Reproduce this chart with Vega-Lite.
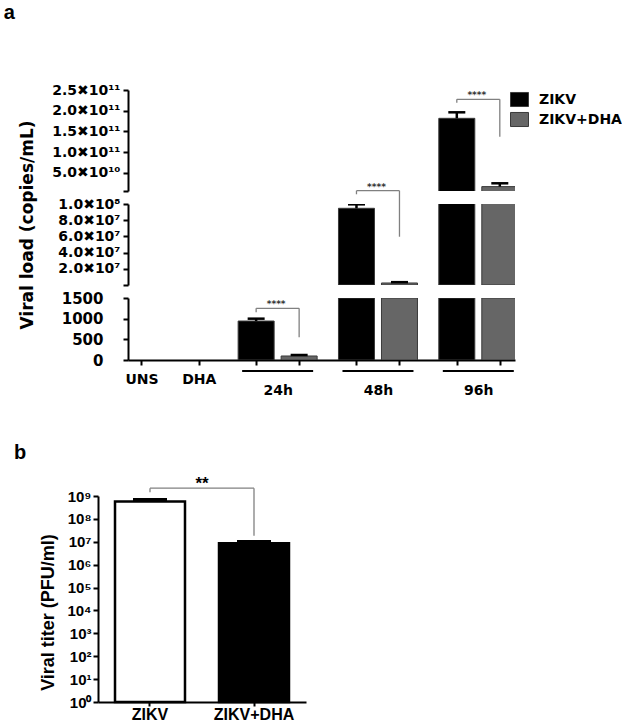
{
  "$schema": "https://vega.github.io/schema/vega-lite/v6.json",
  "padding": {"left": 3, "top": 3, "right": 0, "bottom": 0},
  "background": "white",
  "config": {
    "view": {"stroke": null},
    "axis": {
      "domainColor": "black", "domainWidth": 2, "tickColor": "black", "tickWidth": 2, "tickSize": 5,
      "grid": false, "labelColor": "black", "titleColor": "black", "labelOverlap": false,
      "labelFont": "DejaVu Sans", "labelFontWeight": "bold", "titleFont": "DejaVu Sans", "titleFontWeight": "bold"
    },
    "legend": {
      "orient": "right", "offset": -5, "padding": 0,
      "labelFont": "DejaVu Sans", "labelFontWeight": "bold", "labelFontSize": 14, "labelColor": "black",
      "symbolType": "M-1,-0.78H1V0.78H-1Z", "symbolSize": 324, "symbolStrokeColor": "#3a3a3a", "symbolStrokeWidth": 1,
      "labelOffset": 10, "rowPadding": 1
    },
    "title": {"font": "Liberation Sans", "fontWeight": "bold", "fontSize": 20, "color": "black"}
  },
  "datasets": {
    "bars": [
      {"bar": "24h ZIKV", "time": "24h", "treatment": "ZIKV", "value": 943, "upper": 1000},
      {"bar": "24h ZIKV+DHA", "time": "24h", "treatment": "ZIKV+DHA", "value": 97, "upper": 121},
      {"bar": "48h ZIKV", "time": "48h", "treatment": "ZIKV", "value": 94700000, "upper": 99600000},
      {"bar": "48h ZIKV+DHA", "time": "48h", "treatment": "ZIKV+DHA", "value": 2500000, "upper": 3500000},
      {"bar": "96h ZIKV", "time": "96h", "treatment": "ZIKV", "value": 181600000000, "upper": 196100000000},
      {"bar": "96h ZIKV+DHA", "time": "96h", "treatment": "ZIKV+DHA", "value": 16600000000, "upper": 24600000000}
    ],
    "brackets": [
      {"time": "24h", "left": "24h ZIKV", "right": "24h ZIKV+DHA", "top": 1251, "leftEnd": 1154, "rightEnd": 549, "sig": "****"},
      {"time": "48h", "left": "48h ZIKV", "right": "48h ZIKV+DHA", "top": 116400000, "leftEnd": 112000000, "rightEnd": 59600000, "sig": "****"},
      {"time": "96h", "left": "96h ZIKV", "right": "96h ZIKV+DHA", "top": 227500000000, "leftEnd": 219300000000, "rightEnd": 137200000000, "sig": "****"}
    ],
    "groups": [
      {"time": "24h", "first": "24h ZIKV", "last": "24h ZIKV+DHA"},
      {"time": "48h", "first": "48h ZIKV", "last": "48h ZIKV+DHA"},
      {"time": "96h", "first": "96h ZIKV", "last": "96h ZIKV+DHA"}
    ],
    "titer": [
      {"virus": "ZIKV", "value": 570000000, "upper": 700000000},
      {"virus": "ZIKV+DHA", "value": 8700000, "upper": 10300000}
    ],
    "titerBracket": [
      {"left": "ZIKV", "right": "ZIKV+DHA", "top": 2190000000, "leftEnd": 1470000000, "rightEnd": 18300000, "sig": "**"}
    ]
  },
  "spacing": 45,
  "resolve": {"scale": {"x": "independent", "y": "independent", "fill": "independent"}, "legend": {"fill": "independent"}},
  "vconcat": [
    {
      "spacing": 13,
      "bounds": "flush",
      "resolve": {"scale": {"y": "independent", "fill": "independent"}, "legend": {"fill": "independent"}},
      "vconcat": [
        {
          "width": 387, "height": 101,
          "title": {"text": "a", "anchor": "start", "frame": "bounds", "offset": 60, "dx": -48},
          "resolve": {"axis": {"x": "independent", "y": "independent"}},
          "layer": [
            {
              "data": {"name": "bars"},
              "transform": [{"filter": "datum.time == '96h'"}],
              "mark": {"type": "bar", "width": 36, "clip": true, "stroke": "#3a3a3a", "strokeWidth": 1},
              "encoding": {
                "x": {"field": "bar", "type": "nominal", "axis": null, "scale": {"type": "point", "domain": ["UNS","_1","_2","_3","DHA","_5","_6","_7","24h ZIKV","_9","_10","24h ZIKV+DHA","_12","_13","_14","48h ZIKV","_16","_17","48h ZIKV+DHA","_19","_20","_21","96h ZIKV","_23","_24","96h ZIKV+DHA"], "padding": 2.07, "align": 0.47}},
                "y": {"field": "value", "type": "quantitative", "scale": {"domain": [6000000000, 250000000000], "zero": false, "nice": false},
                  "axis": {"title": null, "orient": "left", "labelOverlap": false, "labelFlush": false, "labelBound": false, "values": [6000000000, 50000000000, 100000000000, 150000000000, 200000000000, 250000000000],
                    "labelExpr": "datum.value >= 1e11 ? format(datum.value / 1e11, '.1f') + '✖10¹¹' : datum.value >= 1e10 ? format(datum.value / 1e10, '.1f') + '✖10¹⁰' : ''",
                    "labelFontSize": 14, "labelPadding": 3}},
                "fill": {"field": "treatment", "type": "nominal", "title": null, "scale": {"domain": ["ZIKV", "ZIKV+DHA"], "range": ["#000000", "#666666"]}}
              }
            },
            {
              "data": {"name": "bars"},
              "transform": [{"filter": "datum.time == '96h'"}],
              "mark": {"type": "rule", "clip": true, "strokeWidth": 2.5, "color": "black"},
              "encoding": {
                "x": {"field": "bar", "type": "nominal", "axis": null, "scale": {"type": "point", "domain": ["UNS","_1","_2","_3","DHA","_5","_6","_7","24h ZIKV","_9","_10","24h ZIKV+DHA","_12","_13","_14","48h ZIKV","_16","_17","48h ZIKV+DHA","_19","_20","_21","96h ZIKV","_23","_24","96h ZIKV+DHA"], "padding": 2.07, "align": 0.47}},
                "y": {"field": "value", "type": "quantitative", "axis": null, "scale": {"domain": [6000000000, 250000000000], "zero": false, "nice": false}},
                "y2": {"field": "upper"}
              }
            },
            {
              "data": {"name": "bars"},
              "transform": [{"filter": "datum.time == '96h'"}],
              "mark": {"type": "tick", "orient": "horizontal", "clip": true, "size": 17, "thickness": 2.5, "color": "black", "opacity": 1},
              "encoding": {
                "x": {"field": "bar", "type": "nominal", "axis": null, "scale": {"type": "point", "domain": ["UNS","_1","_2","_3","DHA","_5","_6","_7","24h ZIKV","_9","_10","24h ZIKV+DHA","_12","_13","_14","48h ZIKV","_16","_17","48h ZIKV+DHA","_19","_20","_21","96h ZIKV","_23","_24","96h ZIKV+DHA"], "padding": 2.07, "align": 0.47}},
                "y": {"field": "upper", "type": "quantitative", "axis": null, "scale": {"domain": [6000000000, 250000000000], "zero": false, "nice": false}}
              }
            },
            {
              "data": {"name": "brackets"},
              "transform": [{"filter": "datum.time == '96h'"}],
              "mark": {"type": "rule", "color": "#808080", "strokeWidth": 1.3},
              "encoding": {
                "x": {"field": "left", "type": "nominal", "axis": null, "scale": {"type": "point", "domain": ["UNS","_1","_2","_3","DHA","_5","_6","_7","24h ZIKV","_9","_10","24h ZIKV+DHA","_12","_13","_14","48h ZIKV","_16","_17","48h ZIKV+DHA","_19","_20","_21","96h ZIKV","_23","_24","96h ZIKV+DHA"], "padding": 2.07, "align": 0.47}},
                "x2": {"field": "right"},
                "y": {"field": "top", "type": "quantitative", "axis": null, "scale": {"domain": [6000000000, 250000000000], "zero": false, "nice": false}}
              }
            },
            {
              "data": {"name": "brackets"},
              "transform": [{"filter": "datum.time == '96h'"}],
              "mark": {"type": "rule", "color": "#808080", "strokeWidth": 1.3},
              "encoding": {
                "x": {"field": "left", "type": "nominal", "axis": null, "scale": {"type": "point", "domain": ["UNS","_1","_2","_3","DHA","_5","_6","_7","24h ZIKV","_9","_10","24h ZIKV+DHA","_12","_13","_14","48h ZIKV","_16","_17","48h ZIKV+DHA","_19","_20","_21","96h ZIKV","_23","_24","96h ZIKV+DHA"], "padding": 2.07, "align": 0.47}},
                "y": {"field": "top", "type": "quantitative", "axis": null, "scale": {"domain": [6000000000, 250000000000], "zero": false, "nice": false}},
                "y2": {"field": "leftEnd"}
              }
            },
            {
              "data": {"name": "brackets"},
              "transform": [{"filter": "datum.time == '96h'"}],
              "mark": {"type": "rule", "color": "#808080", "strokeWidth": 1.3},
              "encoding": {
                "x": {"field": "right", "type": "nominal", "axis": null, "scale": {"type": "point", "domain": ["UNS","_1","_2","_3","DHA","_5","_6","_7","24h ZIKV","_9","_10","24h ZIKV+DHA","_12","_13","_14","48h ZIKV","_16","_17","48h ZIKV+DHA","_19","_20","_21","96h ZIKV","_23","_24","96h ZIKV+DHA"], "padding": 2.07, "align": 0.47}},
                "y": {"field": "top", "type": "quantitative", "axis": null, "scale": {"domain": [6000000000, 250000000000], "zero": false, "nice": false}},
                "y2": {"field": "rightEnd"}
              }
            },
            {
              "data": {"name": "brackets"},
              "transform": [{"filter": "datum.time == '96h'"}],
              "mark": {"type": "text", "font": "DejaVu Sans", "fontWeight": "bold", "fontSize": 9, "color": "#333333", "dx": 20, "dy": -1, "baseline": "alphabetic"},
              "encoding": {
                "x": {"field": "left", "type": "nominal", "axis": null, "scale": {"type": "point", "domain": ["UNS","_1","_2","_3","DHA","_5","_6","_7","24h ZIKV","_9","_10","24h ZIKV+DHA","_12","_13","_14","48h ZIKV","_16","_17","48h ZIKV+DHA","_19","_20","_21","96h ZIKV","_23","_24","96h ZIKV+DHA"], "padding": 2.07, "align": 0.47}},
                "y": {"field": "top", "type": "quantitative", "axis": null, "scale": {"domain": [6000000000, 250000000000], "zero": false, "nice": false}},
                "text": {"field": "sig"}
              }
            }
          ]
        },
        {
          "width": 387, "height": 81,
          "resolve": {"axis": {"x": "independent", "y": "independent"}},
          "layer": [
            {
              "data": {"name": "bars"},
              "transform": [{"filter": "datum.time != '24h'"}],
              "mark": {"type": "bar", "width": 36, "clip": true, "stroke": "#3a3a3a", "strokeWidth": 1},
              "encoding": {
                "x": {"field": "bar", "type": "nominal", "axis": null, "scale": {"type": "point", "domain": ["UNS","_1","_2","_3","DHA","_5","_6","_7","24h ZIKV","_9","_10","24h ZIKV+DHA","_12","_13","_14","48h ZIKV","_16","_17","48h ZIKV+DHA","_19","_20","_21","96h ZIKV","_23","_24","96h ZIKV+DHA"], "padding": 2.07, "align": 0.47}},
                "y": {"field": "value", "type": "quantitative", "scale": {"domain": [0, 100000000], "nice": false},
                  "axis": {"title": "Viral load (copies/mL)", "orient": "left", "titleFontSize": 17, "titleX": -92, "titleY": 20.5, "labelOverlap": false, "labelFlush": false, "labelBound": false,
                    "values": [0, 20000000, 40000000, 60000000, 80000000, 100000000],
                    "labelExpr": "datum.value == 0 ? '' : datum.value >= 1e8 ? format(datum.value / 1e8, '.1f') + '✖10⁸' : format(datum.value / 1e7, '.1f') + '✖10⁷'",
                    "labelFontSize": 14, "labelPadding": 3}},
                "fill": {"field": "treatment", "type": "nominal", "legend": null, "scale": {"domain": ["ZIKV", "ZIKV+DHA"], "range": ["#000000", "#666666"]}}
              }
            },
            {
              "data": {"name": "bars"},
              "transform": [{"filter": "datum.time == '48h'"}],
              "mark": {"type": "rule", "clip": true, "strokeWidth": 2.5, "color": "black"},
              "encoding": {
                "x": {"field": "bar", "type": "nominal", "axis": null, "scale": {"type": "point", "domain": ["UNS","_1","_2","_3","DHA","_5","_6","_7","24h ZIKV","_9","_10","24h ZIKV+DHA","_12","_13","_14","48h ZIKV","_16","_17","48h ZIKV+DHA","_19","_20","_21","96h ZIKV","_23","_24","96h ZIKV+DHA"], "padding": 2.07, "align": 0.47}},
                "y": {"field": "value", "type": "quantitative", "axis": null, "scale": {"domain": [0, 100000000], "nice": false}},
                "y2": {"field": "upper"}
              }
            },
            {
              "data": {"name": "bars"},
              "transform": [{"filter": "datum.time == '48h'"}],
              "mark": {"type": "tick", "orient": "horizontal", "clip": true, "size": 17, "thickness": 2.5, "color": "black", "opacity": 1},
              "encoding": {
                "x": {"field": "bar", "type": "nominal", "axis": null, "scale": {"type": "point", "domain": ["UNS","_1","_2","_3","DHA","_5","_6","_7","24h ZIKV","_9","_10","24h ZIKV+DHA","_12","_13","_14","48h ZIKV","_16","_17","48h ZIKV+DHA","_19","_20","_21","96h ZIKV","_23","_24","96h ZIKV+DHA"], "padding": 2.07, "align": 0.47}},
                "y": {"field": "upper", "type": "quantitative", "axis": null, "scale": {"domain": [0, 100000000], "nice": false}}
              }
            },
            {
              "data": {"name": "brackets"},
              "transform": [{"filter": "datum.time == '48h'"}],
              "mark": {"type": "rule", "color": "#808080", "strokeWidth": 1.3},
              "encoding": {
                "x": {"field": "left", "type": "nominal", "axis": null, "scale": {"type": "point", "domain": ["UNS","_1","_2","_3","DHA","_5","_6","_7","24h ZIKV","_9","_10","24h ZIKV+DHA","_12","_13","_14","48h ZIKV","_16","_17","48h ZIKV+DHA","_19","_20","_21","96h ZIKV","_23","_24","96h ZIKV+DHA"], "padding": 2.07, "align": 0.47}},
                "x2": {"field": "right"},
                "y": {"field": "top", "type": "quantitative", "axis": null, "scale": {"domain": [0, 100000000], "nice": false}}
              }
            },
            {
              "data": {"name": "brackets"},
              "transform": [{"filter": "datum.time == '48h'"}],
              "mark": {"type": "rule", "color": "#808080", "strokeWidth": 1.3},
              "encoding": {
                "x": {"field": "left", "type": "nominal", "axis": null, "scale": {"type": "point", "domain": ["UNS","_1","_2","_3","DHA","_5","_6","_7","24h ZIKV","_9","_10","24h ZIKV+DHA","_12","_13","_14","48h ZIKV","_16","_17","48h ZIKV+DHA","_19","_20","_21","96h ZIKV","_23","_24","96h ZIKV+DHA"], "padding": 2.07, "align": 0.47}},
                "y": {"field": "top", "type": "quantitative", "axis": null, "scale": {"domain": [0, 100000000], "nice": false}},
                "y2": {"field": "leftEnd"}
              }
            },
            {
              "data": {"name": "brackets"},
              "transform": [{"filter": "datum.time == '48h'"}],
              "mark": {"type": "rule", "color": "#808080", "strokeWidth": 1.3},
              "encoding": {
                "x": {"field": "right", "type": "nominal", "axis": null, "scale": {"type": "point", "domain": ["UNS","_1","_2","_3","DHA","_5","_6","_7","24h ZIKV","_9","_10","24h ZIKV+DHA","_12","_13","_14","48h ZIKV","_16","_17","48h ZIKV+DHA","_19","_20","_21","96h ZIKV","_23","_24","96h ZIKV+DHA"], "padding": 2.07, "align": 0.47}},
                "y": {"field": "top", "type": "quantitative", "axis": null, "scale": {"domain": [0, 100000000], "nice": false}},
                "y2": {"field": "rightEnd"}
              }
            },
            {
              "data": {"name": "brackets"},
              "transform": [{"filter": "datum.time == '48h'"}],
              "mark": {"type": "text", "font": "DejaVu Sans", "fontWeight": "bold", "fontSize": 9, "color": "#333333", "dx": 20, "dy": -1, "baseline": "alphabetic"},
              "encoding": {
                "x": {"field": "left", "type": "nominal", "axis": null, "scale": {"type": "point", "domain": ["UNS","_1","_2","_3","DHA","_5","_6","_7","24h ZIKV","_9","_10","24h ZIKV+DHA","_12","_13","_14","48h ZIKV","_16","_17","48h ZIKV+DHA","_19","_20","_21","96h ZIKV","_23","_24","96h ZIKV+DHA"], "padding": 2.07, "align": 0.47}},
                "y": {"field": "top", "type": "quantitative", "axis": null, "scale": {"domain": [0, 100000000], "nice": false}},
                "text": {"field": "sig"}
              }
            }
          ]
        },
        {
          "width": 387, "height": 62,
          "resolve": {"axis": {"x": "independent", "y": "independent"}},
          "layer": [
            {
              "data": {"name": "bars"},
              "mark": {"type": "bar", "width": 36, "clip": true, "stroke": "#3a3a3a", "strokeWidth": 1},
              "encoding": {
                "x": {"field": "bar", "type": "nominal", "scale": {"type": "point", "domain": ["UNS","_1","_2","_3","DHA","_5","_6","_7","24h ZIKV","_9","_10","24h ZIKV+DHA","_12","_13","_14","48h ZIKV","_16","_17","48h ZIKV+DHA","_19","_20","_21","96h ZIKV","_23","_24","96h ZIKV+DHA"], "padding": 2.07, "align": 0.47},
                  "axis": {"title": null, "orient": "bottom", "values": ["UNS", "DHA", "24h ZIKV", "24h ZIKV+DHA", "48h ZIKV", "48h ZIKV+DHA", "96h ZIKV", "96h ZIKV+DHA"],
                    "labelExpr": "datum.value == 'UNS' || datum.value == 'DHA' ? datum.value : ''", "labelOverlap": false,
                    "labelAngle": 0, "labelFontSize": 14, "labelPadding": 7}},
                "y": {"field": "value", "type": "quantitative", "scale": {"domain": [0, 1500], "nice": false, "clamp": true},
                  "axis": {"title": null, "orient": "left", "values": [0, 500, 1000, 1500], "format": "d", "labelOverlap": false, "labelFlush": false, "labelBound": false, "labelFontSize": 15, "labelPadding": 20}},
                "fill": {"field": "treatment", "type": "nominal", "legend": null, "scale": {"domain": ["ZIKV", "ZIKV+DHA"], "range": ["#000000", "#666666"]}}
              }
            },
            {
              "data": {"name": "bars"},
              "transform": [{"filter": "datum.time == '24h'"}],
              "mark": {"type": "rule", "clip": true, "strokeWidth": 2.5, "color": "black"},
              "encoding": {
                "x": {"field": "bar", "type": "nominal", "axis": null, "scale": {"type": "point", "domain": ["UNS","_1","_2","_3","DHA","_5","_6","_7","24h ZIKV","_9","_10","24h ZIKV+DHA","_12","_13","_14","48h ZIKV","_16","_17","48h ZIKV+DHA","_19","_20","_21","96h ZIKV","_23","_24","96h ZIKV+DHA"], "padding": 2.07, "align": 0.47}},
                "y": {"field": "value", "type": "quantitative", "axis": null, "scale": {"domain": [0, 1500], "nice": false, "clamp": true}},
                "y2": {"field": "upper"}
              }
            },
            {
              "data": {"name": "bars"},
              "transform": [{"filter": "datum.time == '24h'"}],
              "mark": {"type": "tick", "orient": "horizontal", "clip": true, "size": 17, "thickness": 2.5, "color": "black", "opacity": 1},
              "encoding": {
                "x": {"field": "bar", "type": "nominal", "axis": null, "scale": {"type": "point", "domain": ["UNS","_1","_2","_3","DHA","_5","_6","_7","24h ZIKV","_9","_10","24h ZIKV+DHA","_12","_13","_14","48h ZIKV","_16","_17","48h ZIKV+DHA","_19","_20","_21","96h ZIKV","_23","_24","96h ZIKV+DHA"], "padding": 2.07, "align": 0.47}},
                "y": {"field": "upper", "type": "quantitative", "axis": null, "scale": {"domain": [0, 1500], "nice": false, "clamp": true}}
              }
            },
            {
              "data": {"name": "brackets"},
              "transform": [{"filter": "datum.time == '24h'"}],
              "mark": {"type": "rule", "color": "#808080", "strokeWidth": 1.3},
              "encoding": {
                "x": {"field": "left", "type": "nominal", "axis": null, "scale": {"type": "point", "domain": ["UNS","_1","_2","_3","DHA","_5","_6","_7","24h ZIKV","_9","_10","24h ZIKV+DHA","_12","_13","_14","48h ZIKV","_16","_17","48h ZIKV+DHA","_19","_20","_21","96h ZIKV","_23","_24","96h ZIKV+DHA"], "padding": 2.07, "align": 0.47}},
                "x2": {"field": "right"},
                "y": {"field": "top", "type": "quantitative", "axis": null, "scale": {"domain": [0, 1500], "nice": false, "clamp": true}}
              }
            },
            {
              "data": {"name": "brackets"},
              "transform": [{"filter": "datum.time == '24h'"}],
              "mark": {"type": "rule", "color": "#808080", "strokeWidth": 1.3},
              "encoding": {
                "x": {"field": "left", "type": "nominal", "axis": null, "scale": {"type": "point", "domain": ["UNS","_1","_2","_3","DHA","_5","_6","_7","24h ZIKV","_9","_10","24h ZIKV+DHA","_12","_13","_14","48h ZIKV","_16","_17","48h ZIKV+DHA","_19","_20","_21","96h ZIKV","_23","_24","96h ZIKV+DHA"], "padding": 2.07, "align": 0.47}},
                "y": {"field": "top", "type": "quantitative", "axis": null, "scale": {"domain": [0, 1500], "nice": false, "clamp": true}},
                "y2": {"field": "leftEnd"}
              }
            },
            {
              "data": {"name": "brackets"},
              "transform": [{"filter": "datum.time == '24h'"}],
              "mark": {"type": "rule", "color": "#808080", "strokeWidth": 1.3},
              "encoding": {
                "x": {"field": "right", "type": "nominal", "axis": null, "scale": {"type": "point", "domain": ["UNS","_1","_2","_3","DHA","_5","_6","_7","24h ZIKV","_9","_10","24h ZIKV+DHA","_12","_13","_14","48h ZIKV","_16","_17","48h ZIKV+DHA","_19","_20","_21","96h ZIKV","_23","_24","96h ZIKV+DHA"], "padding": 2.07, "align": 0.47}},
                "y": {"field": "top", "type": "quantitative", "axis": null, "scale": {"domain": [0, 1500], "nice": false, "clamp": true}},
                "y2": {"field": "rightEnd"}
              }
            },
            {
              "data": {"name": "brackets"},
              "transform": [{"filter": "datum.time == '24h'"}],
              "mark": {"type": "text", "font": "DejaVu Sans", "fontWeight": "bold", "fontSize": 9, "color": "#333333", "dx": 20, "dy": -1, "baseline": "alphabetic"},
              "encoding": {
                "x": {"field": "left", "type": "nominal", "axis": null, "scale": {"type": "point", "domain": ["UNS","_1","_2","_3","DHA","_5","_6","_7","24h ZIKV","_9","_10","24h ZIKV+DHA","_12","_13","_14","48h ZIKV","_16","_17","48h ZIKV+DHA","_19","_20","_21","96h ZIKV","_23","_24","96h ZIKV+DHA"], "padding": 2.07, "align": 0.47}},
                "y": {"field": "top", "type": "quantitative", "axis": null, "scale": {"domain": [0, 1500], "nice": false, "clamp": true}},
                "text": {"field": "sig"}
              }
            },
            {
              "data": {"name": "groups"},
              "mark": {"type": "rule", "color": "black", "strokeWidth": 2, "xOffset": -14, "x2Offset": 14, "yOffset": 42},
              "encoding": {
                "x": {"field": "first", "type": "nominal", "axis": null, "scale": {"type": "point", "domain": ["UNS","_1","_2","_3","DHA","_5","_6","_7","24h ZIKV","_9","_10","24h ZIKV+DHA","_12","_13","_14","48h ZIKV","_16","_17","48h ZIKV+DHA","_19","_20","_21","96h ZIKV","_23","_24","96h ZIKV+DHA"], "padding": 2.07, "align": 0.47}},
                "x2": {"field": "last"}
              }
            },
            {
              "data": {"name": "groups"},
              "mark": {"type": "text", "font": "DejaVu Sans", "fontWeight": "bold", "fontSize": 14, "color": "black", "dx": 22, "dy": 62},
              "encoding": {
                "x": {"field": "first", "type": "nominal", "axis": null, "scale": {"type": "point", "domain": ["UNS","_1","_2","_3","DHA","_5","_6","_7","24h ZIKV","_9","_10","24h ZIKV+DHA","_12","_13","_14","48h ZIKV","_16","_17","48h ZIKV+DHA","_19","_20","_21","96h ZIKV","_23","_24","96h ZIKV+DHA"], "padding": 2.07, "align": 0.47}},
                "text": {"field": "time"}
              }
            }
          ]
        }
      ]
    },
    {
      "width": 180, "height": 206,
      "title": {"text": "b", "anchor": "start", "frame": "bounds", "offset": 12, "dx": -26},
      "layer": [
        {
          "data": {"name": "titer"},
          "mark": {"type": "bar", "stroke": "black", "strokeWidth": 2.5},
          "encoding": {
            "x": {"field": "virus", "type": "nominal", "scale": {"domain": ["ZIKV", "ZIKV+DHA"], "range": [-30, 178], "paddingInner": 0.327, "paddingOuter": 0.1635},
              "axis": {"title": null, "labelAngle": 0, "labelFont": "Liberation Sans", "labelFontSize": 16, "labelPadding": 0, "tickSize": 4}},
            "y": {"field": "value", "type": "quantitative", "scale": {"type": "log", "domain": [1, 1000000000], "nice": false},
              "axis": {"title": "Viral titer (PFU/ml)", "offset": 30, "titleFont": "Liberation Sans", "titleFontSize": 18, "titlePadding": 9, "titleY": 116, "labelOverlap": false,
                "values": [1, 10, 100, 1000, 10000, 100000, 1000000, 10000000, 100000000, 1000000000],
                "labelExpr": "'10' + ['⁰','¹','²','³','⁴','⁵','⁶','⁷','⁸','⁹'][round(log(datum.value) / LN10)]",
                "labelFont": "Liberation Sans", "labelFontSize": 15, "labelPadding": 2}},
            "y2": {"datum": 1},
            "fill": {"field": "virus", "type": "nominal", "legend": null, "scale": {"domain": ["ZIKV", "ZIKV+DHA"], "range": ["#ffffff", "#000000"]}}
          }
        },
        {
          "data": {"name": "titer"},
          "mark": {"type": "rule", "strokeWidth": 2.5, "color": "black"},
          "encoding": {
            "x": {"field": "virus", "type": "nominal", "scale": {"domain": ["ZIKV", "ZIKV+DHA"], "range": [-30, 178], "paddingInner": 0.327, "paddingOuter": 0.1635}},
            "y": {"field": "value", "type": "quantitative", "scale": {"type": "log", "domain": [1, 1000000000], "nice": false}},
            "y2": {"field": "upper"}
          }
        },
        {
          "data": {"name": "titer"},
          "mark": {"type": "tick", "orient": "horizontal", "size": 34, "thickness": 3, "color": "black", "opacity": 1},
          "encoding": {
            "x": {"field": "virus", "type": "nominal", "scale": {"domain": ["ZIKV", "ZIKV+DHA"], "range": [-30, 178], "paddingInner": 0.327, "paddingOuter": 0.1635}},
            "y": {"field": "upper", "type": "quantitative", "scale": {"type": "log", "domain": [1, 1000000000], "nice": false}}
          }
        },
        {
          "data": {"name": "titerBracket"},
          "mark": {"type": "rule", "color": "#808080", "strokeWidth": 1.3},
          "encoding": {
            "x": {"field": "left", "type": "nominal", "scale": {"domain": ["ZIKV", "ZIKV+DHA"], "range": [-30, 178], "paddingInner": 0.327, "paddingOuter": 0.1635}},
            "x2": {"field": "right"},
            "y": {"field": "top", "type": "quantitative", "scale": {"type": "log", "domain": [1, 1000000000], "nice": false}}
          }
        },
        {
          "data": {"name": "titerBracket"},
          "mark": {"type": "rule", "color": "#808080", "strokeWidth": 1.3},
          "encoding": {
            "x": {"field": "left", "type": "nominal", "scale": {"domain": ["ZIKV", "ZIKV+DHA"], "range": [-30, 178], "paddingInner": 0.327, "paddingOuter": 0.1635}},
            "y": {"field": "top", "type": "quantitative", "scale": {"type": "log", "domain": [1, 1000000000], "nice": false}},
            "y2": {"field": "leftEnd"}
          }
        },
        {
          "data": {"name": "titerBracket"},
          "mark": {"type": "rule", "color": "#808080", "strokeWidth": 1.3},
          "encoding": {
            "x": {"field": "right", "type": "nominal", "scale": {"domain": ["ZIKV", "ZIKV+DHA"], "range": [-30, 178], "paddingInner": 0.327, "paddingOuter": 0.1635}},
            "y": {"field": "top", "type": "quantitative", "scale": {"type": "log", "domain": [1, 1000000000], "nice": false}},
            "y2": {"field": "rightEnd"}
          }
        },
        {
          "data": {"name": "titerBracket"},
          "mark": {"type": "text", "font": "Liberation Sans", "fontWeight": "bold", "fontSize": 17, "color": "black", "dx": 52, "dy": 1, "baseline": "alphabetic"},
          "encoding": {
            "x": {"field": "left", "type": "nominal", "scale": {"domain": ["ZIKV", "ZIKV+DHA"], "range": [-30, 178], "paddingInner": 0.327, "paddingOuter": 0.1635}},
            "y": {"field": "top", "type": "quantitative", "scale": {"type": "log", "domain": [1, 1000000000], "nice": false}},
            "text": {"field": "sig"}
          }
        }
      ]
    }
  ]
}
